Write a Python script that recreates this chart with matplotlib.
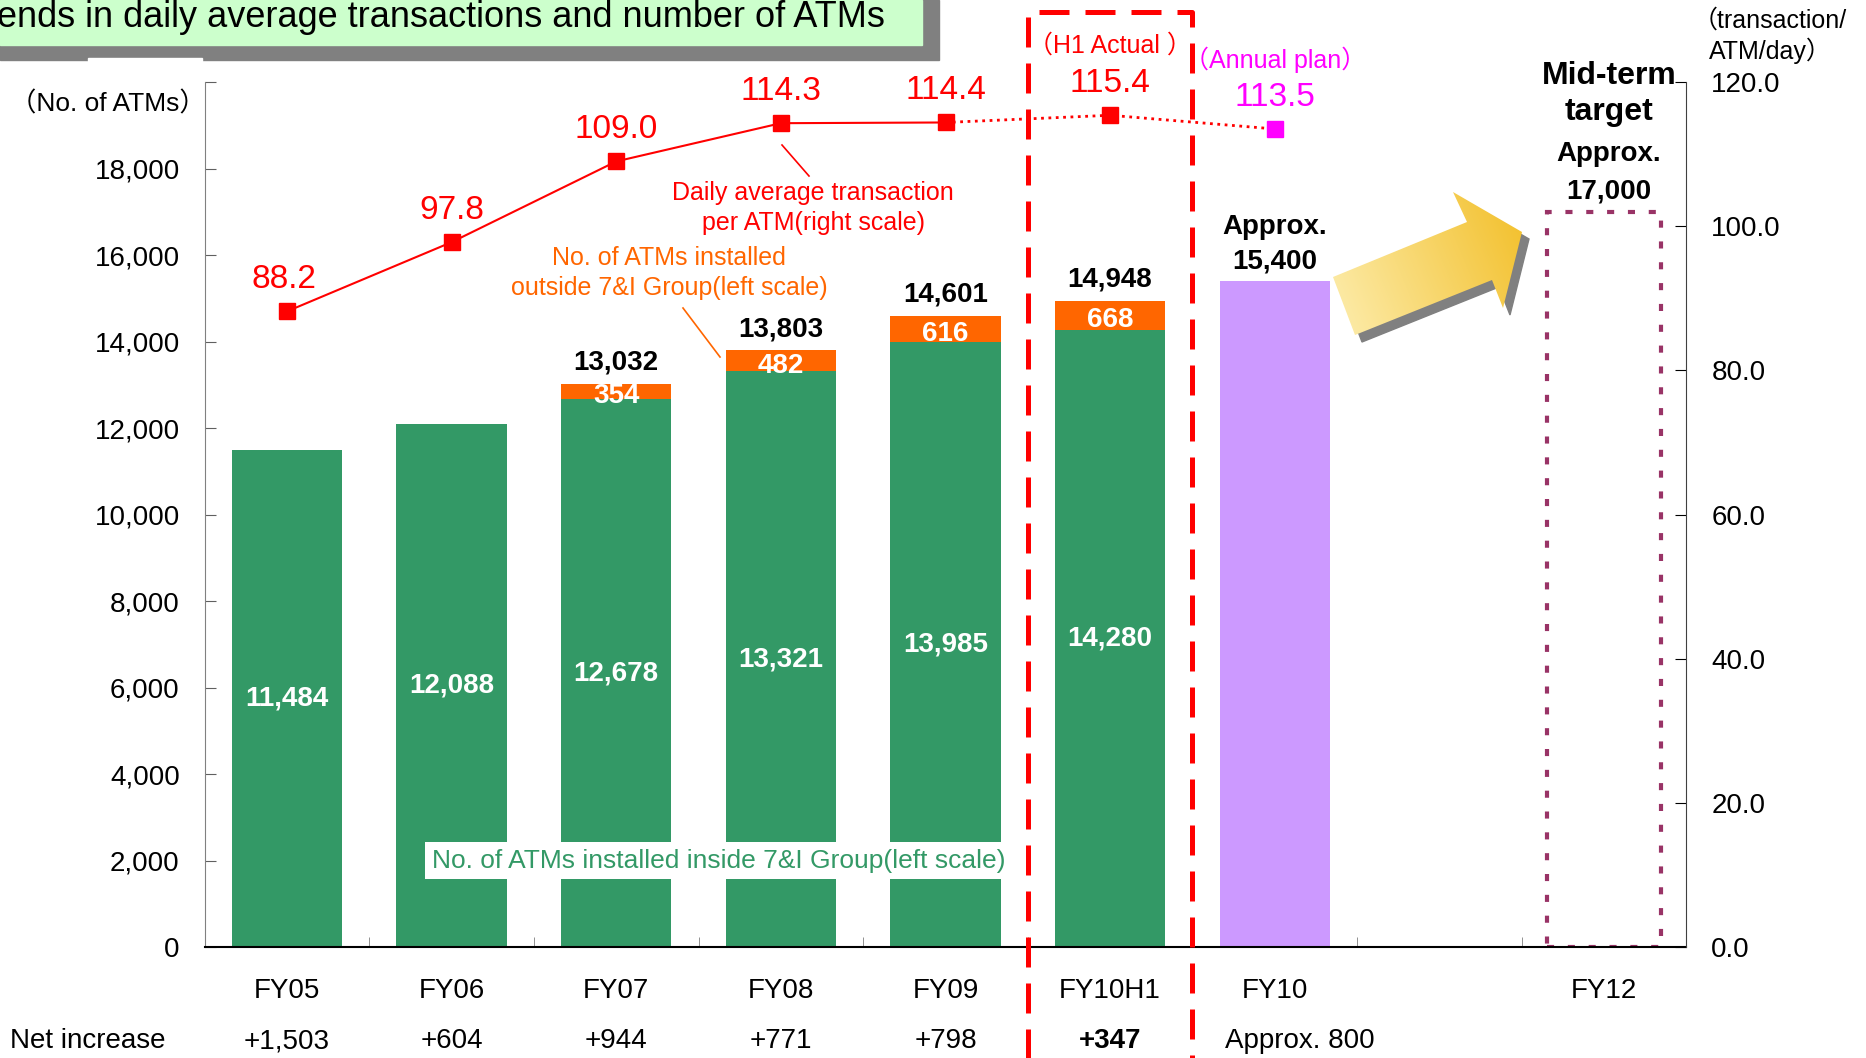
import matplotlib
matplotlib.use('Agg')
import matplotlib.pyplot as plt
import matplotlib.transforms as mtransforms
import numpy as np
from matplotlib.colors import LinearSegmentedColormap
from matplotlib.patches import Polygon, Rectangle

# data
categories = ['FY05', 'FY06', 'FY07', 'FY08', 'FY09', 'FY10H1', 'FY10', '', 'FY12']
inside = [11484, 12088, 12678, 13321, 13985, 14280]
outside = [0, 0, 354, 482, 616, 668]
totals = [None, None, 13032, 13803, 14601, 14948]
plan_fy10 = 15400
target_fy12 = 17000
daily_avg = [88.2, 97.8, 109.0, 114.3, 114.4]
h1_avg = 115.4
plan_avg = 113.5
net_increase = ['+1,503', '+604', '+944', '+771', '+798', '+347', 'Approx. 800']
left_ticks = [0, 2000, 4000, 6000, 8000, 10000, 12000, 14000, 16000, 18000, 20000]
right_ticks = [0, 20, 40, 60, 80, 100, 120]

GREEN = '#339966'
ORANGE = '#FF6600'
PURPLE = '#CC99FF'
RED = '#FF0000'
MAGENTA = '#FF00FF'
MAROON = '#993366'

plt.rcParams['font.family'] = ['Liberation Sans', 'Noto Sans CJK JP']

W, H = 1866, 1058
fig = plt.figure(figsize=(W / 100, H / 100), dpi=100)

ax = fig.add_axes([0.1097, 0.1047, 0.7940, 0.8177])
x = np.arange(len(categories))
n = len(inside)
bw = 0.67
ax.bar(x[:n], inside, width=bw, color=GREEN, zorder=2)
ax.bar(x[:n], outside, bottom=inside, width=bw, color=ORANGE, zorder=2)
ax.bar(x[6], plan_fy10, width=bw, color=PURPLE, zorder=2)
ax.add_patch(Rectangle((x[8] - 0.345, 0), 0.69, target_fy12, fill=False,
                       ec=MAROON, lw=3, ls=(0, (1.7, 3.3)), zorder=2))

ax.set_xlim(-0.5, 8.5)
ax.set_ylim(0, 20000)
ax.set_xticks(x, categories)
ax.set_xticks(np.arange(-0.5, 9, 1), minor=True)
ax.tick_params(axis='x', which='major', length=0, pad=22, labelsize=20)
ax.tick_params(axis='x', which='minor', direction='in', length=7, color='#808080')
ax.set_yticks(left_ticks, [f'{v:,}' if v < 20000 else '' for v in left_ticks])
ax.tick_params(axis='y', direction='in', length=8, pad=18, labelsize=20, color='#606060')
ax.spines['top'].set_visible(False)
ax.spines['right'].set_visible(False)
ax.spines['left'].set_color('#808080')
ax.spines['bottom'].set_linewidth(1.5)

# labels inside and above bars
for i in range(n):
    ax.text(x[i], inside[i] / 2, f'{inside[i]:,}', ha='center', va='center',
            color='white', fontsize=20, fontweight='bold', zorder=3)
    if outside[i]:
        ax.text(x[i], inside[i] + outside[i] / 2 - 120, f'{outside[i]}', ha='center',
                va='center', color='white', fontsize=20, fontweight='bold', zorder=3)
    if totals[i]:
        ax.annotate(f'{totals[i]:,}', (x[i], totals[i]), xytext=(0, 15),
                    textcoords='offset points', ha='center', va='center',
                    fontsize=20, fontweight='bold')
ax.annotate(f'{plan_fy10:,}', (x[6], plan_fy10), xytext=(0, 14), textcoords='offset points',
            ha='center', va='center', fontsize=20, fontweight='bold')
ax.annotate('Approx.', (x[6], plan_fy10), xytext=(0, 39), textcoords='offset points',
            ha='center', va='center', fontsize=20, fontweight='bold')
for txt, off, fs in [(f'{target_fy12:,}', 15, 20), ('Approx.', 42, 20),
                     ('target', 72, 23), ('Mid-term', 98, 23)]:
    ax.annotate(txt, (x[8] + 0.03, target_fy12), xytext=(0, off), textcoords='offset points',
                ha='center', va='center', fontsize=fs, fontweight='bold')

ax.text(2.62, 2000, 'No. of ATMs installed inside 7&I Group(left scale)', ha='center',
        va='center', fontsize=19, color=GREEN, zorder=5,
        bbox=dict(boxstyle='square,pad=0.25', fc='white', ec='none'))

# right axis and the line
ax2 = ax.twinx()
ax2.set_ylim(0, 120)
ax2.set_yticks(right_ticks, [f'{v:.1f}' for v in right_ticks])
ax2.tick_params(axis='y', direction='in', length=8, pad=18, labelsize=20)
for s in ['top', 'left', 'bottom']:
    ax2.spines[s].set_visible(False)
ax2.spines['right'].set_color('#404040')

ax2.plot(x[:5], daily_avg, color=RED, lw=1.5, marker='s', ms=12, zorder=4)
ax2.plot(x[4:7], [daily_avg[-1], h1_avg, plan_avg], color=RED, lw=2, ls=':', zorder=3)
ax2.plot(x[5], h1_avg, 's', color=RED, ms=12, zorder=4)
ax2.plot(x[6], plan_avg, 's', color=MAGENTA, ms=12, zorder=4)
for i, v in enumerate(daily_avg):
    ax2.annotate(f'{v:.1f}', (x[i], v), xytext=(-2 if i == 0 else 0, 23),
                 textcoords='offset points', ha='center', va='center', fontsize=24, color=RED)
ax2.annotate(f'{h1_avg:.1f}', (x[5], h1_avg), xytext=(0, 23), textcoords='offset points',
             ha='center', va='center', fontsize=24, color=RED)
ax2.annotate('（H1 Actual ）', (x[5], h1_avg), xytext=(0, 50), textcoords='offset points',
             ha='center', va='center', fontsize=18, color=RED)
ax2.annotate(f'{plan_avg:.1f}', (x[6], plan_avg), xytext=(0, 23), textcoords='offset points',
             ha='center', va='center', fontsize=24, color=MAGENTA)
ax2.annotate('（Annual plan）', (x[6], plan_avg), xytext=(0, 50), textcoords='offset points',
             ha='center', va='center', fontsize=18, color=MAGENTA)

# red dashed frame around FY10H1
trans = mtransforms.blended_transform_factory(ax2.transData, ax2.transAxes)
ax2.plot([4.5, 4.5, 5.5, 5.5], [-0.25, 1.081, 1.081, -0.25], transform=trans,
         color=RED, lw=3.6, ls=(0, (6, 3.2)), clip_on=False, zorder=6)

# overlay in pixel coordinates for decorations
ov = fig.add_axes([0, 0, 1, 1], zorder=5)
ov.axis('off')

ov.add_patch(Rectangle((0, 0), 939, 60, color='#808080'))
ov.add_patch(Rectangle((0, 0), 922, 45, color='#CCFFCC'))
ov.text(-3, 27, 'ends in daily average transactions and number of ATMs', ha='left',
        va='baseline', fontsize=26)
ov.add_patch(Rectangle((88, 58), 114, 20, color='white'))

ov.text(108, 104, '（No. of ATMs）', ha='center', va='center', fontsize=19)
ov.text(1770, 36, '（transaction/\nATM/day）', ha='center', va='center', fontsize=18,
        linespacing=1.25)

ov.text(813, 208, 'Daily average transaction\nper ATM(right scale)', ha='center',
        va='center', fontsize=18, color=RED, linespacing=1.35)
ov.plot([782, 809], [145, 176], color=RED, lw=1.2)
ov.text(669, 273, 'No. of ATMs installed\noutside 7&I Group(left scale)', ha='center',
        va='center', fontsize=18, color=ORANGE, linespacing=1.35)
ov.plot([683, 720], [308, 357], color=ORANGE, lw=1.2)

# row of net increase
ov.text(10, 1041, 'Net increase', ha='left', va='center', fontsize=20)
net_trans = mtransforms.blended_transform_factory(ax.transData, ov.transData)
for i, t in enumerate(net_increase):
    xi = x[i] + (0.15 if i == 6 else 0)
    ov.text(xi, 1041, t, transform=net_trans, ha='center', va='center', fontsize=20,
            fontweight='bold' if i == 5 else 'normal')

# yellow arrow
arrow = [(1333, 277), (1467, 222), (1453, 192), (1522, 232),
         (1503, 308), (1492, 280), (1355, 335)]
ov.add_patch(Polygon([(a + 7, b + 7) for a, b in arrow], color='#808080'))
body = Polygon(arrow, fc='none', ec='none')
ov.add_patch(body)
x0, x1, y0, y1 = 1330, 1525, 190, 338
gx, gy = np.meshgrid(np.linspace(x0, x1, 200), np.linspace(y0, y1, 150))
d = np.array([178.0, -74.0])
t = ((gx - 1344) * d[0] + (gy - 306) * d[1]) / (d @ d)
cmap = LinearSegmentedColormap.from_list('gold', ['#FCE9A2', '#F3C232'])
im = ov.imshow(t, extent=(x0, x1, y1, y0), origin='upper', cmap=cmap, vmin=0, vmax=1,
               aspect='auto', zorder=2)
im.set_clip_path(body)

ov.set_xlim(0, W)
ov.set_ylim(H, 0)

fig.savefig('out.png', dpi=100)
